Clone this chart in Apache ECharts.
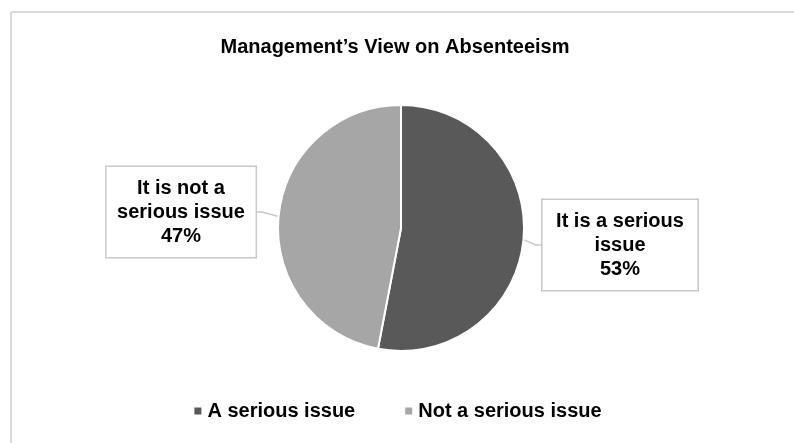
<!DOCTYPE html>
<html><head><meta charset="utf-8">
<script src="https://cdn.jsdelivr.net/npm/echarts@6/dist/echarts.min.js"></script>
<style>html,body{margin:0;padding:0;background:#fff}#c{width:794px;height:443px}</style>
</head><body><div id="c"></div>
<script>
const titleText = "Management\u2019s View on Absenteeism";
const categories = ["A serious issue", "Not a serious issue"];
const calloutLabels = ["It is a serious\nissue", "It is not a\nserious issue"];
const values = [53, 47];
const colors = ["#595959", "#a6a6a6"];

const chart = echarts.init(document.getElementById('c'));
const labelPos = [[620, 245], [181, 212]];
const labelW = [141, 135];
chart.setOption({
  animation: false,
  title: {text: titleText, left: 390, top: 32, textAlign: 'center',
    textStyle: {fontFamily: 'Liberation Sans, Arial', fontWeight: 'bold', fontSize: 20, color: '#000'}},
  legend: {bottom: 17, left: 'center', itemWidth: 9, itemHeight: 9, itemGap: 48, icon: 'rect',
    textStyle: {fontFamily: 'Liberation Sans, Arial', fontWeight: 'bold', fontSize: 20, color: '#000'},
    data: categories},
  graphic: [
    {type: 'line', shape: {x1: 11, y1: 12, x2: 794, y2: 12}, style: {stroke: '#d9d9d9', lineWidth: 2}},
    {type: 'line', shape: {x1: 11, y1: 12, x2: 11, y2: 443}, style: {stroke: '#d9d9d9', lineWidth: 2}}
  ],
  series: [{
    type: 'pie', center: [401, 228], radius: 123, startAngle: 90, clockwise: true,
    itemStyle: {borderColor: '#fff', borderWidth: 2},
    label: {
      show: true, position: 'outside',
      formatter: p => calloutLabels[p.dataIndex] + '\n' + p.value + '%',
      fontFamily: 'Liberation Sans, Arial', fontWeight: 'bold', fontSize: 20, color: '#000',
      lineHeight: 24, align: 'center',
      backgroundColor: '#fff', borderColor: '#c8c8c8', borderWidth: 1.5, padding: [9, 7]
    },
    labelLine: {show: true, lineStyle: {color: '#c8c8c8', width: 1.5}, length: 5, length2: 5},
    labelLayout: p => ({x: labelPos[p.dataIndex][0], y: labelPos[p.dataIndex][1], align: 'center', verticalAlign: 'middle', width: labelW[p.dataIndex]}),
    data: categories.map((c, i) => ({name: c, value: values[i], itemStyle: {color: colors[i]}}))
  }]
});
</script></body></html>
